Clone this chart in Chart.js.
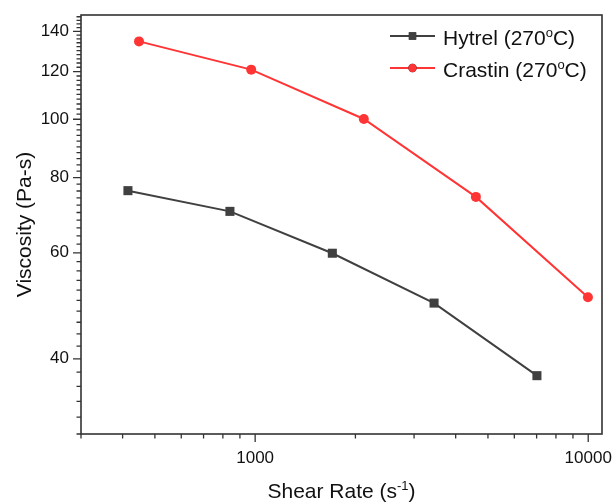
<!DOCTYPE html>
<html>
<head>
<meta charset="utf-8">
<script src="https://cdn.jsdelivr.net/npm/chart.js@4.4.1/dist/chart.umd.min.js"></script>
<style>
  html, body { margin: 0; padding: 0; background: #fff; }
  #wrap { width: 612px; height: 503px; }
</style>
</head>
<body>
<div id="wrap"><canvas id="chart" width="612" height="503"></canvas></div>
<script>
// ================= DATA =================
const hytrelRate = [415, 840, 1705, 3445, 7015];
const hytrelVisc = [76.1, 70.3, 59.9, 49.5, 37.5];
const crastinRate = [448, 973, 2120, 4600, 9980];
const crastinVisc = [134.7, 120.9, 100.1, 74.3, 50.6];

const yLabels = [40, 60, 80, 100, 120, 140];
const xLabels = [1000, 10000];

const FONT = "'Liberation Sans', Arial, sans-serif";
const AXIS = '#333';
const GREY = '#404040';
const RED = '#ff3535';

// ================= HELPERS =================
function toPoints(xs, ys) {
    return xs.map((x, i) => ({ x: x, y: ys[i] }));
}

// minor ticks every 2 on y, 2..9 per decade on x
function yTickValues(min, max) {
    const out = [];
    for (let v = 30; v <= max; v += 2) if (v >= min) out.push(v);
    return out;
}
function xTickValues(min, max) {
    const out = [];
    for (let d = 100; d <= 10000; d *= 10) {
        for (let m = 1; m <= 9; m++) {
            const v = m * d;
            if (v >= min && v <= max) out.push(v);
        }
    }
    return out;
}

// text with superscript parts: [[text, isSup], ...]
function richWidth(ctx, parts, size) {
    let w = 0;
    parts.forEach(([t, sup]) => {
        ctx.font = (sup ? Math.round(size * 0.62) : size) + "px " + FONT;
        w += ctx.measureText(t).width;
    });
    return w;
}
function drawRich(ctx, parts, x, y, size) {
    parts.forEach(([t, sup]) => {
        ctx.font = (sup ? Math.round(size * 0.62) : size) + "px " + FONT;
        ctx.fillText(t, x, sup ? y - size * 0.38 : y);
        x += ctx.measureText(t).width;
    });
}

// ================= PLUGIN: frame, ticks, titles, legend =================
const decor = {
    id: 'decor',
    afterDraw(chart) {
        const { ctx, chartArea: a, scales: { x, y } } = chart;
        ctx.save();

        // frame
        ctx.strokeStyle = AXIS;
        ctx.lineWidth = 1.6;
        ctx.strokeRect(a.left, a.top, a.right - a.left, a.bottom - a.top);

        // tick marks (outward)
        ctx.lineWidth = 1.3;
        ctx.beginPath();
        y.ticks.forEach(t => {
            const py = y.getPixelForValue(t.value);
            const len = yLabels.includes(t.value) ? 8 : 4.5;
            ctx.moveTo(a.left, py);
            ctx.lineTo(a.left - len, py);
        });
        x.ticks.forEach(t => {
            const px = x.getPixelForValue(t.value);
            const len = xLabels.includes(t.value) ? 8 : 4.5;
            ctx.moveTo(px, a.bottom);
            ctx.lineTo(px, a.bottom + len);
        });
        ctx.stroke();

        // axis titles
        ctx.fillStyle = '#111';
        ctx.textBaseline = 'alphabetic';
        ctx.textAlign = 'left';
        const xt = [["Shear Rate (s", false], ["-1", true], [")", false]];
        const xw = richWidth(ctx, xt, 21);
        drawRich(ctx, xt, (a.left + a.right) / 2 - xw / 2, 498, 21);

        const yt = [["Viscosity (Pa-s)", false]];
        const yw = richWidth(ctx, yt, 21);
        ctx.save();
        ctx.translate(31, (a.top + a.bottom) / 2);
        ctx.rotate(-Math.PI / 2);
        drawRich(ctx, yt, -yw / 2, 0, 21);
        ctx.restore();

        // legend
        const rows = [
            { ds: chart.data.datasets[0], y: 36, label: "Hytrel (270" },
            { ds: chart.data.datasets[1], y: 68, label: "Crastin (270" }
        ];
        rows.forEach(r => {
            ctx.strokeStyle = r.ds.borderColor;
            ctx.lineWidth = 2;
            ctx.beginPath();
            ctx.moveTo(390, r.y);
            ctx.lineTo(435, r.y);
            ctx.stroke();
            Chart.helpers.drawPoint(ctx, {
                pointStyle: r.ds.pointStyle,
                radius: r.ds.pointStyle === 'rect' ? 5.2 : 4.2,
                borderWidth: 0
            }, 412.5, r.y);
            ctx.fillStyle = r.ds.backgroundColor;
            ctx.fill();
            ctx.fillStyle = '#111';
            drawRich(ctx, [[r.label, false], ["o", true], ["C)", false]], 443, r.y + 9, 21);
        });

        ctx.restore();
    }
};

// ================= CHART =================
const ctx = document.getElementById("chart").getContext('2d');

new Chart(ctx, {
    type: 'line',
    data: {
        datasets: [
            {
                label: 'Hytrel (270°C)',
                data: toPoints(hytrelRate, hytrelVisc),
                borderColor: GREY,
                backgroundColor: GREY,
                borderWidth: 2,
                pointStyle: 'rect',
                pointRadius: 6.4,
                pointBorderWidth: 0,
                tension: 0
            },
            {
                label: 'Crastin (270°C)',
                data: toPoints(crastinRate, crastinVisc),
                borderColor: RED,
                backgroundColor: RED,
                borderWidth: 2,
                pointStyle: 'circle',
                pointRadius: 5,
                pointBorderWidth: 0,
                tension: 0
            }
        ]
    },
    options: {
        responsive: false,
        animation: false,
        layout: { padding: { top: 15, right: 10, left: 0, bottom: 0 } },
        plugins: {
            legend: { display: false },
            tooltip: { enabled: false }
        },
        scales: {
            x: {
                type: 'logarithmic',
                min: 300,
                max: 11000,
                grid: { display: false, drawTicks: false },
                border: { display: false },
                afterBuildTicks: s => { s.ticks = xTickValues(s.min, s.max).map(v => ({ value: v })); },
                afterFit: s => {
                    s.height = 69;
                    s.paddingLeft = 0;
                    s.paddingRight = 0;
                },
                ticks: {
                    autoSkip: false,
                    maxRotation: 0,
                    padding: 14,
                    color: '#111',
                    font: { family: FONT, size: 17 },
                    callback: v => xLabels.includes(v) ? String(v) : ''
                }
            },
            y: {
                type: 'logarithmic',
                min: 30,
                max: 149,
                grid: { display: false, drawTicks: false },
                border: { display: false },
                afterBuildTicks: s => { s.ticks = yTickValues(s.min, s.max).map(v => ({ value: v })); },
                afterFit: s => {
                    s.width = 81;
                    s.paddingTop = 0;
                    s.paddingBottom = 0;
                },
                ticks: {
                    autoSkip: false,
                    padding: 12,
                    color: '#111',
                    font: { family: FONT, size: 17 },
                    callback: v => yLabels.includes(v) ? String(v) : ''
                }
            }
        }
    },
    plugins: [decor]
});
</script>
</body>
</html>
